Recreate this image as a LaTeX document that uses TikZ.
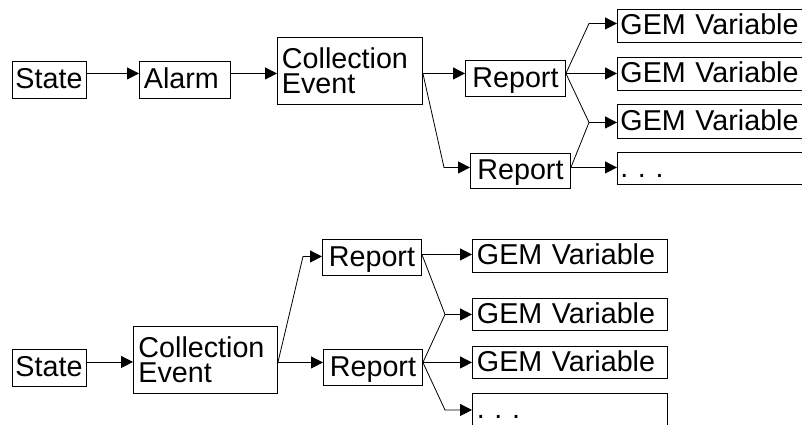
\documentclass[tikz,border=0pt]{standalone}
\usepackage{fontspec}
\setmainfont{Liberation Sans}
\usetikzlibrary{arrows.meta}
\newcommand\dgfont{\fontsize{28.7}{25}\selectfont\frenchspacing}
\tikzset{
  bx/.style={draw, line width=0.9pt, rectangle, anchor=north west, inner ysep=0pt, align=left, font=\dgfont},
  one/.style={text height=23pt, text depth=5pt},
  arr/.style={line width=0.8pt, -{Triangle[length=12pt,width=12pt]}},
  ln/.style={line width=0.8pt},
}
\begin{document}
\begin{tikzpicture}[x=1pt,y=-1pt]
\clip (0,0) rectangle (802,424);
\fill[white] (0,0) rectangle (802,424);
% ---------- top diagram ----------
\node[bx, one, inner xsep=3pt, text width=68pt, minimum height=37pt] (s1) at (12,61) {State};
\node[bx, one, inner xsep=4.5pt, text width=82pt, minimum height=37pt] (a1) at (139,61) {Alarm};
\node[bx, inner xsep=4.5pt, text width=136pt, minimum height=67pt] (ce1) at (277,37) {Collection\\Event};
\node[bx, one, align=center, inner xsep=3pt, text width=94pt, minimum height=36pt] (r1) at (465,60) {Report};
\node[bx, one, align=center, inner xsep=3pt, text width=94pt, minimum height=35pt] (r2) at (470,153) {Report};
\node[bx, one, inner xsep=3pt, text width=194pt, minimum height=33pt] (g1) at (617,9) {GEM Variable};
\node[bx, one, inner xsep=3pt, text width=194pt, minimum height=33pt] (g2) at (617,57) {GEM Variable};
\node[bx, one, inner xsep=3pt, text width=194pt, minimum height=34pt] (g3) at (617,104) {GEM Variable};
\node[bx, one, inner xsep=3pt, text width=194pt, minimum height=32pt] (g4) at (617,152) {. . .};
% connectors
\coordinate (p0) at ([yshift=6.5pt]s1.east);
\draw[arr] (p0) -- (p0 -| a1.west);
\coordinate (p1) at ([yshift=6.5pt]a1.east);
\draw[arr] (p1) -- (p1 -| ce1.west);
\coordinate (c1) at ([yshift=5pt]r1.west);
\draw[arr] (c1 -| ce1.east) -- (c1);
\coordinate (c2) at ([yshift=3.5pt]r2.west);
\draw[arr] (c1 -| ce1.east) -- ([xshift=-26pt]c2) -- (c2);
\coordinate (c3) at ([yshift=5pt]r1.east);
\coordinate (cg1) at ([yshift=2.5pt]g1.west);
\draw[arr] (c3) -- ([xshift=-28pt]cg1) -- (cg1);
\draw[arr] (c3) -- (c3 -| g2.west);
\coordinate (c4) at ([yshift=-1pt]g3.west);
\draw[arr] (c3) -- ([xshift=-28pt]c4) -- (c4);
\coordinate (c5) at ([yshift=3.5pt]r2.east);
\draw[ln] (c5) -- ([xshift=-28pt]c4);
\draw[arr] (c5) -- (c5 -| g4.west);
% ---------- bottom diagram ----------
\node[bx, one, inner xsep=3pt, text width=68pt, minimum height=37pt] (s2) at (12,349) {State};
\node[bx, inner xsep=5pt, text width=134pt, minimum height=67pt] (ce2) at (133,326) {Collection\\Event};
\node[bx, one, align=center, inner xsep=3pt, text width=93pt, minimum height=36pt] (r3) at (322,239) {Report};
\node[bx, one, align=center, inner xsep=3pt, text width=93pt, minimum height=36pt] (r4) at (323,349) {Report};
\node[bx, one, inner xsep=4.5pt, text width=186pt, minimum height=33pt] (h1) at (472,239) {GEM Variable};
\node[bx, one, inner xsep=4.5pt, text width=186pt, minimum height=32pt] (h2) at (472,298) {GEM Variable};
\node[bx, one, inner xsep=4.5pt, text width=186pt, minimum height=32pt] (h3) at (472,346) {GEM Variable};
\node[bx, one, inner xsep=4.5pt, text width=186pt, minimum height=33pt] (h4) at (472,393) {. . .};
% connectors
\coordinate (d1) at ([yshift=6pt]s2.east);
\draw[arr] (d1) -- (d1 -| ce2.west);
\coordinate (d2) at ([yshift=5pt]r4.west);
\draw[arr] (d2 -| ce2.east) -- (d2);
\coordinate (d3) at ([yshift=1pt]r3.west);
\draw[arr] (d2 -| ce2.east) -- ([xshift=-19pt]d3) -- (d3);
\coordinate (d4) at ([yshift=3pt]r3.east);
\draw[arr] (d4) -- (d4 -| h1.west);
\draw[arr] (d4) -- ([xshift=-27pt]h2.west) -- (h2.west);
\coordinate (d6) at ([yshift=5pt]r4.east);
\draw[ln] (d6) -- ([xshift=-27pt]h2.west);
\draw[arr] (d6) -- (d6 -| h3.west);
\draw[arr] (d6) -- ([xshift=-27pt]h4.west) -- (h4.west);
\end{tikzpicture}
\end{document}
